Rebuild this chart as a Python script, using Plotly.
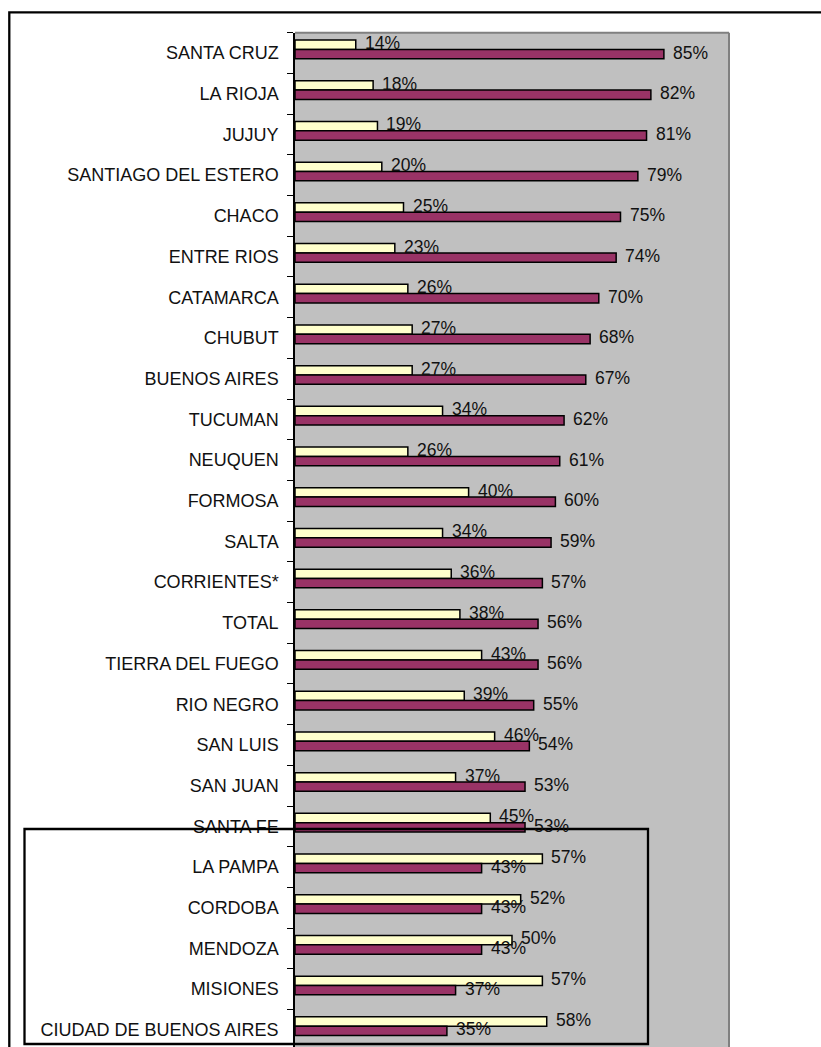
import plotly.graph_objects as go

# Provinces, top to bottom
provinces = [
    "SANTA CRUZ", "LA RIOJA", "JUJUY", "SANTIAGO DEL ESTERO", "CHACO",
    "ENTRE RIOS", "CATAMARCA", "CHUBUT", "BUENOS AIRES", "TUCUMAN",
    "NEUQUEN", "FORMOSA", "SALTA", "CORRIENTES*", "TOTAL",
    "TIERRA DEL FUEGO", "RIO NEGRO", "SAN LUIS", "SAN JUAN", "SANTA FE",
    "LA PAMPA", "CORDOBA", "MENDOZA", "MISIONES", "CIUDAD DE BUENOS AIRES",
]
# Light (upper) series, percent
light_pct = [14, 18, 19, 20, 25, 23, 26, 27, 27, 34, 26, 40, 34, 36, 38,
             43, 39, 46, 37, 45, 57, 52, 50, 57, 58]
# Dark (lower) series, percent
dark_pct = [85, 82, 81, 79, 75, 74, 70, 68, 67, 62, 61, 60, 59, 57, 56,
            56, 55, 54, 53, 53, 43, 43, 43, 37, 35]

W, H = 821, 1047
PLOT_L, PLOT_R, PLOT_T = 295, 729, 32.7
ROW_PX = 40.7
n = len(provinces)
rows_visible = (H - PLOT_T) / ROW_PX

FONT = "Liberation Sans, Arial, sans-serif"
LIGHT = "#FFFFCC"
DARK = "#993366"

fig = go.Figure()
fig.add_trace(go.Bar(
    y=provinces, x=light_pct, orientation="h",
    width=[0.23] * n, offset=[-0.32] * n,
    marker=dict(color=LIGHT, line=dict(color="black", width=1.5)),
    hoverinfo="skip",
))
fig.add_trace(go.Bar(
    y=provinces, x=dark_pct, orientation="h",
    width=[0.23] * n, offset=[-0.09] * n,
    marker=dict(color=DARK, line=dict(color="black", width=1.5)),
    hoverinfo="skip",
))

annotations = []
for p, v in zip(provinces, light_pct):
    annotations.append(dict(x=v, y=p, xref="x", yref="y", text=f"{v}%",
                            showarrow=False, xanchor="left", yanchor="middle",
                            xshift=7, yshift=10,
                            font=dict(family=FONT, size=17.5, color="#111111")))
for p, v in zip(provinces, dark_pct):
    annotations.append(dict(x=v, y=p, xref="x", yref="y", text=f"{v}%",
                            showarrow=False, xanchor="left", yanchor="middle",
                            xshift=7, yshift=0.5,
                            font=dict(family=FONT, size=17.5, color="#111111")))


def px_x(v):
    return v / W


def px_y(v):
    return 1 - v / H


shapes = [
    # plot frame, top and right edges
    dict(type="line", xref="x domain", yref="y domain", x0=0, x1=1, y0=1, y1=1,
         line=dict(color="#808080", width=2)),
    dict(type="line", xref="x domain", yref="y domain", x0=1, x1=1, y0=0, y1=1,
         line=dict(color="#808080", width=2)),
    # outer frame
    dict(type="rect", xref="paper", yref="paper",
         x0=px_x(9.3), x1=px_x(840), y0=px_y(12.3), y1=px_y(1070),
         line=dict(color="black", width=2.3), layer="above"),
    # highlight box around the last provinces
    dict(type="rect", xref="paper", yref="paper",
         x0=px_x(24.5), x1=px_x(648), y0=px_y(829), y1=px_y(1044),
         line=dict(color="black", width=2.3), layer="above"),
]

fig.update_layout(
    width=W, height=H,
    margin=dict(l=0, r=0, t=0, b=0),
    paper_bgcolor="white",
    plot_bgcolor="#C0C0C0",
    showlegend=False,
    barmode="overlay",
    annotations=annotations,
    shapes=shapes,
    xaxis=dict(domain=[PLOT_L / W, PLOT_R / W], range=[0, 100],
               showticklabels=False, showgrid=False, zeroline=False,
               ticks="", showline=False, fixedrange=True),
    yaxis=dict(domain=[0, 1 - PLOT_T / H], type="category",
               categoryorder="array", categoryarray=provinces,
               range=[-0.5 + rows_visible, -0.5],
               showgrid=False, zeroline=False,
               showline=True, linecolor="black", linewidth=1.5,
               ticks="outside", ticklen=6, tickcolor="black", tickwidth=1,
               tickson="boundaries", ticklabelstandoff=11,
               tickfont=dict(family=FONT, size=18, color="#111111"),
               fixedrange=True),
)

fig.write_html("out.html")
